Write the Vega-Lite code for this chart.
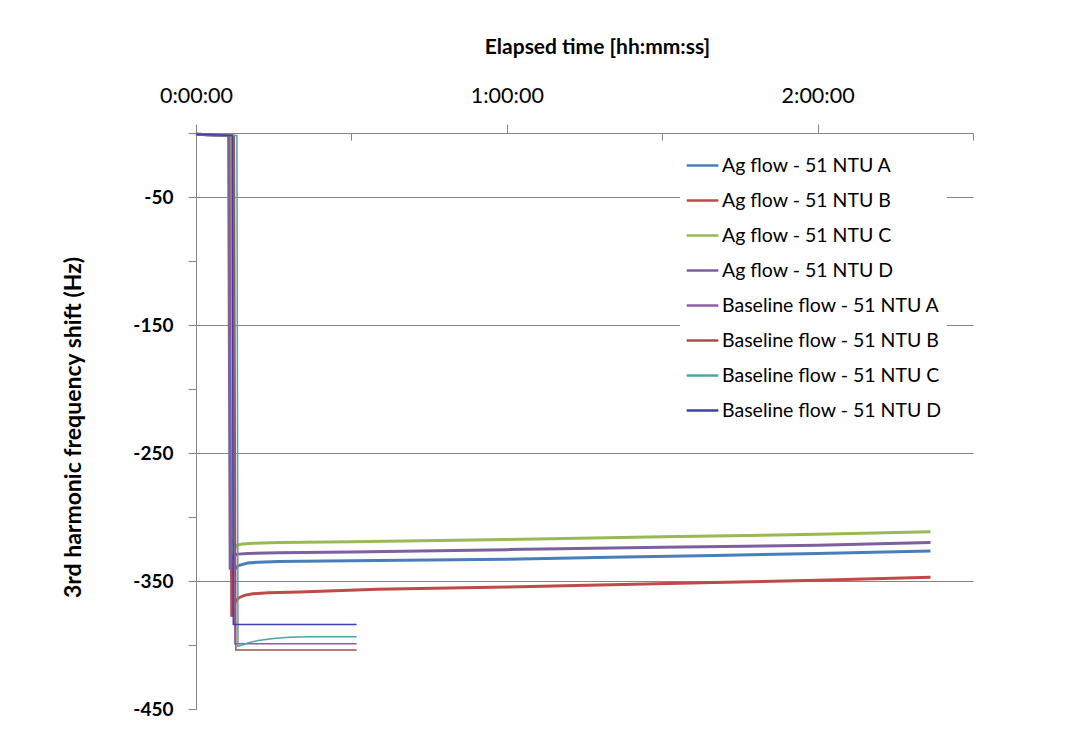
{
  "$schema": "https://vega.github.io/schema/vega-lite/v6.json",
  "width": 777,
  "height": 576,
  "autosize": {"type": "none"},
  "padding": {"left": 196, "top": 133, "right": 92, "bottom": 20},
  "background": "white",
  "config": {
    "view": {"stroke": null},
    "font": "Lato"
  },
  "data": {
    "values": [
      {"series": "Ag flow - 51 NTU A", "flow": "Ag", "t": 0, "v": -1},
      {"series": "Ag flow - 51 NTU A", "flow": "Ag", "t": 6.5, "v": -2},
      {"series": "Ag flow - 51 NTU A", "flow": "Ag", "t": 6.9, "v": -345},
      {"series": "Ag flow - 51 NTU A", "flow": "Ag", "t": 7.2, "v": -343},
      {"series": "Ag flow - 51 NTU A", "flow": "Ag", "t": 7.6, "v": -340},
      {"series": "Ag flow - 51 NTU A", "flow": "Ag", "t": 8.2, "v": -338},
      {"series": "Ag flow - 51 NTU A", "flow": "Ag", "t": 9, "v": -337},
      {"series": "Ag flow - 51 NTU A", "flow": "Ag", "t": 10, "v": -336},
      {"series": "Ag flow - 51 NTU A", "flow": "Ag", "t": 12, "v": -335.3},
      {"series": "Ag flow - 51 NTU A", "flow": "Ag", "t": 16, "v": -334.8},
      {"series": "Ag flow - 51 NTU A", "flow": "Ag", "t": 25, "v": -334.3},
      {"series": "Ag flow - 51 NTU A", "flow": "Ag", "t": 40, "v": -333.8},
      {"series": "Ag flow - 51 NTU A", "flow": "Ag", "t": 60, "v": -333},
      {"series": "Ag flow - 51 NTU A", "flow": "Ag", "t": 80, "v": -331.5},
      {"series": "Ag flow - 51 NTU A", "flow": "Ag", "t": 100, "v": -330},
      {"series": "Ag flow - 51 NTU A", "flow": "Ag", "t": 120, "v": -328.5},
      {"series": "Ag flow - 51 NTU A", "flow": "Ag", "t": 141.8, "v": -326.5},

      {"series": "Ag flow - 51 NTU B", "flow": "Ag", "t": 0, "v": -1},
      {"series": "Ag flow - 51 NTU B", "flow": "Ag", "t": 6.6, "v": -2},
      {"series": "Ag flow - 51 NTU B", "flow": "Ag", "t": 6.9, "v": -378},
      {"series": "Ag flow - 51 NTU B", "flow": "Ag", "t": 7.2, "v": -370},
      {"series": "Ag flow - 51 NTU B", "flow": "Ag", "t": 7.6, "v": -366},
      {"series": "Ag flow - 51 NTU B", "flow": "Ag", "t": 8.3, "v": -363},
      {"series": "Ag flow - 51 NTU B", "flow": "Ag", "t": 9.5, "v": -361},
      {"series": "Ag flow - 51 NTU B", "flow": "Ag", "t": 11, "v": -360},
      {"series": "Ag flow - 51 NTU B", "flow": "Ag", "t": 14, "v": -359.2},
      {"series": "Ag flow - 51 NTU B", "flow": "Ag", "t": 20, "v": -358.5},
      {"series": "Ag flow - 51 NTU B", "flow": "Ag", "t": 35, "v": -356.5},
      {"series": "Ag flow - 51 NTU B", "flow": "Ag", "t": 60, "v": -354.7},
      {"series": "Ag flow - 51 NTU B", "flow": "Ag", "t": 80, "v": -353},
      {"series": "Ag flow - 51 NTU B", "flow": "Ag", "t": 100, "v": -351.2},
      {"series": "Ag flow - 51 NTU B", "flow": "Ag", "t": 120, "v": -349.5},
      {"series": "Ag flow - 51 NTU B", "flow": "Ag", "t": 141.8, "v": -347},

      {"series": "Ag flow - 51 NTU C", "flow": "Ag", "t": 0, "v": -1},
      {"series": "Ag flow - 51 NTU C", "flow": "Ag", "t": 6.9, "v": -2},
      {"series": "Ag flow - 51 NTU C", "flow": "Ag", "t": 7.2, "v": -330},
      {"series": "Ag flow - 51 NTU C", "flow": "Ag", "t": 7.5, "v": -324},
      {"series": "Ag flow - 51 NTU C", "flow": "Ag", "t": 8, "v": -322},
      {"series": "Ag flow - 51 NTU C", "flow": "Ag", "t": 9, "v": -321},
      {"series": "Ag flow - 51 NTU C", "flow": "Ag", "t": 11, "v": -320.5},
      {"series": "Ag flow - 51 NTU C", "flow": "Ag", "t": 16, "v": -320},
      {"series": "Ag flow - 51 NTU C", "flow": "Ag", "t": 30, "v": -319.3},
      {"series": "Ag flow - 51 NTU C", "flow": "Ag", "t": 60, "v": -317.5},
      {"series": "Ag flow - 51 NTU C", "flow": "Ag", "t": 90, "v": -315.5},
      {"series": "Ag flow - 51 NTU C", "flow": "Ag", "t": 120, "v": -313.5},
      {"series": "Ag flow - 51 NTU C", "flow": "Ag", "t": 141.8, "v": -311.5},

      {"series": "Ag flow - 51 NTU D", "flow": "Ag", "t": 0, "v": -1},
      {"series": "Ag flow - 51 NTU D", "flow": "Ag", "t": 6.3, "v": -2},
      {"series": "Ag flow - 51 NTU D", "flow": "Ag", "t": 6.6, "v": -341},
      {"series": "Ag flow - 51 NTU D", "flow": "Ag", "t": 6.9, "v": -333},
      {"series": "Ag flow - 51 NTU D", "flow": "Ag", "t": 7.3, "v": -330},
      {"series": "Ag flow - 51 NTU D", "flow": "Ag", "t": 8, "v": -329},
      {"series": "Ag flow - 51 NTU D", "flow": "Ag", "t": 10, "v": -328.5},
      {"series": "Ag flow - 51 NTU D", "flow": "Ag", "t": 16, "v": -328},
      {"series": "Ag flow - 51 NTU D", "flow": "Ag", "t": 30, "v": -327.3},
      {"series": "Ag flow - 51 NTU D", "flow": "Ag", "t": 60, "v": -325.5},
      {"series": "Ag flow - 51 NTU D", "flow": "Ag", "t": 90, "v": -323.7},
      {"series": "Ag flow - 51 NTU D", "flow": "Ag", "t": 120, "v": -322},
      {"series": "Ag flow - 51 NTU D", "flow": "Ag", "t": 141.8, "v": -320},

      {"series": "Baseline flow - 51 NTU A", "flow": "Baseline", "t": 0, "v": -1},
      {"series": "Baseline flow - 51 NTU A", "flow": "Baseline", "t": 7.2, "v": -2},
      {"series": "Baseline flow - 51 NTU A", "flow": "Baseline", "t": 7.5, "v": -399},
      {"series": "Baseline flow - 51 NTU A", "flow": "Baseline", "t": 15, "v": -399},
      {"series": "Baseline flow - 51 NTU A", "flow": "Baseline", "t": 31, "v": -399},

      {"series": "Baseline flow - 51 NTU B", "flow": "Baseline", "t": 0, "v": -1},
      {"series": "Baseline flow - 51 NTU B", "flow": "Baseline", "t": 7.4, "v": -2},
      {"series": "Baseline flow - 51 NTU B", "flow": "Baseline", "t": 7.7, "v": -404},
      {"series": "Baseline flow - 51 NTU B", "flow": "Baseline", "t": 15, "v": -404},
      {"series": "Baseline flow - 51 NTU B", "flow": "Baseline", "t": 31, "v": -404},

      {"series": "Baseline flow - 51 NTU C", "flow": "Baseline", "t": 0, "v": -1},
      {"series": "Baseline flow - 51 NTU C", "flow": "Baseline", "t": 7.9, "v": -2},
      {"series": "Baseline flow - 51 NTU C", "flow": "Baseline", "t": 8.1, "v": -401},
      {"series": "Baseline flow - 51 NTU C", "flow": "Baseline", "t": 9, "v": -400},
      {"series": "Baseline flow - 51 NTU C", "flow": "Baseline", "t": 10, "v": -398.5},
      {"series": "Baseline flow - 51 NTU C", "flow": "Baseline", "t": 12, "v": -396.5},
      {"series": "Baseline flow - 51 NTU C", "flow": "Baseline", "t": 15, "v": -395},
      {"series": "Baseline flow - 51 NTU C", "flow": "Baseline", "t": 18, "v": -394},
      {"series": "Baseline flow - 51 NTU C", "flow": "Baseline", "t": 22, "v": -393.5},
      {"series": "Baseline flow - 51 NTU C", "flow": "Baseline", "t": 31, "v": -393.5},

      {"series": "Baseline flow - 51 NTU D", "flow": "Baseline", "t": 0, "v": -1},
      {"series": "Baseline flow - 51 NTU D", "flow": "Baseline", "t": 7.0, "v": -2},
      {"series": "Baseline flow - 51 NTU D", "flow": "Baseline", "t": 7.2, "v": -384},
      {"series": "Baseline flow - 51 NTU D", "flow": "Baseline", "t": 15, "v": -384},
      {"series": "Baseline flow - 51 NTU D", "flow": "Baseline", "t": 31, "v": -384}
    ]
  },
  "encoding": {
    "x": {
      "field": "t",
      "type": "quantitative",
      "scale": {"domain": [0, 150], "nice": false, "zero": false},
      "axis": {
        "orient": "top",
        "title": "Elapsed time [hh:mm:ss]",
        "titleFont": "Lato",
        "titleFontSize": 21,
        "titleFontWeight": "bold",
        "titleColor": "#000000",
        "titleX": 401,
        "titleY": -86,
        "titleAlign": "center",
        "titleBaseline": "middle",
        "values": [0, 30, 60, 90, 120, 150],
        "labelExpr": "datum.value % 60 == 0 ? floor(datum.value / 60) + ':00:00' : ''",
        "labelFont": "Lato",
        "labelFontSize": 21.5,
        "labelColor": "#000000",
        "labelPadding": 17,
        "labelFlush": false,
        "tickSize": {"condition": {"test": "datum.value % 60 == 0", "value": 9}, "value": -7},
        "tickColor": "#868686",
        "domainColor": "#868686",
        "grid": false
      }
    },
    "y": {
      "field": "v",
      "type": "quantitative",
      "scale": {"domain": [-450, 0], "nice": false, "zero": false},
      "axis": {
        "title": "3rd harmonic frequency shift (Hz)",
        "titleFont": "Lato",
        "titleFontSize": 23,
        "titleFontWeight": "bold",
        "titleColor": "#000000",
        "titleX": -123,
        "titleY": 294,
        "titleAngle": -90,
        "titleAlign": "center",
        "titleBaseline": "middle",
        "values": [0, -50, -100, -150, -200, -250, -300, -350, -400, -450],
        "labelExpr": "datum.value % 100 == -50 ? '' + datum.value : ''",
        "labelFont": "Lato",
        "labelFontSize": 19,
        "labelFontWeight": "bold",
        "labelColor": "#000000",
        "labelPadding": 15,
        "tickSize": 8,
        "tickColor": "#868686",
        "domainColor": "#868686",
        "grid": true,
        "gridColor": "#868686",
        "gridWidth": 1,
        "gridOpacity": {
          "condition": {"test": "datum.value > -400 && datum.value % 100 == -50", "value": 1},
          "value": 0
        }
      }
    },
    "color": {
      "field": "series",
      "type": "nominal",
      "sort": null,
      "scale": {
        "domain": [
          "Ag flow - 51 NTU A", "Ag flow - 51 NTU B", "Ag flow - 51 NTU C", "Ag flow - 51 NTU D",
          "Baseline flow - 51 NTU A", "Baseline flow - 51 NTU B", "Baseline flow - 51 NTU C", "Baseline flow - 51 NTU D"
        ],
        "range": ["#4A7EBB", "#BE4B48", "#98B954", "#7D60A0", "#8B5FA8", "#A0524F", "#4BA8A0", "#3F3FB5"]
      },
      "legend": {
        "title": null,
        "orient": "none",
        "legendX": 484,
        "legendY": 10,
        "fillColor": "white",
        "padding": 5,
        "symbolType": "stroke",
        "symbolSize": 1000,
        "symbolStrokeWidth": 2.5,
        "labelFont": "Lato",
        "labelFontSize": 19.5,
        "labelColor": "#000000",
        "labelOffset": 2,
        "rowPadding": 8,
        "labelLimit": 400
      }
    }
  },
  "layer": [
    {
      "transform": [{"filter": "datum.flow == 'Ag'"}],
      "mark": {"type": "line", "strokeWidth": 3}
    },
    {
      "transform": [{"filter": "datum.flow == 'Baseline'"}],
      "mark": {"type": "line", "strokeWidth": 1.5}
    }
  ]
}
